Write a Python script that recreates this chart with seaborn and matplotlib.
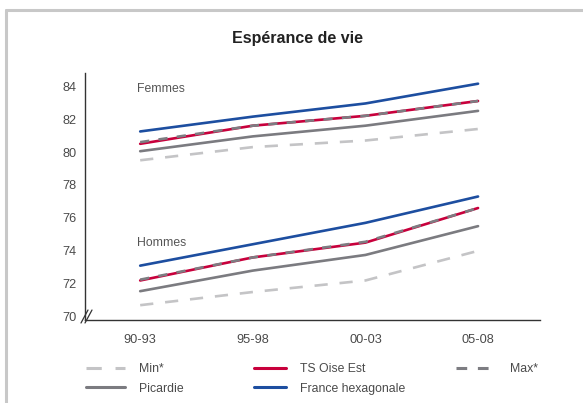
import numpy as np
import pandas as pd
import matplotlib
matplotlib.use('Agg')
import matplotlib.pyplot as plt
import seaborn as sns
from matplotlib.lines import Line2D

periodes = ['90-93', '95-98', '00-03', '05-08']

femmes_min = [79.5, 80.3, 80.7, 81.4]
femmes_picardie = [80.05, 80.95, 81.6, 82.5]
femmes_oise = [80.5, 81.6, 82.2, 83.1]
femmes_max = [80.6, 81.6, 82.2, 83.1]
femmes_france = [81.25, 82.15, 82.95, 84.15]

hommes_min = [70.7, 71.5, 72.2, 74.0]
hommes_picardie = [71.55, 72.8, 73.75, 75.5]
hommes_oise = [72.2, 73.6, 74.5, 76.6]
hommes_max = [72.25, 73.6, 74.55, 76.6]
hommes_france = [73.1, 74.4, 75.7, 77.3]

series = ['Min*', 'Picardie', 'TS Oise Est', 'Max*', 'France hexagonale']
femmes = [femmes_min, femmes_picardie, femmes_oise, femmes_max, femmes_france]
hommes = [hommes_min, hommes_picardie, hommes_oise, hommes_max, hommes_france]
y_ticks = [70, 72, 74, 76, 78, 80, 82, 84]

styles = {
    'Min*': dict(color='#c4c4c6', ls=(0, (5, 4.5))),
    'Picardie': dict(color='#7b7b80', ls='-'),
    'TS Oise Est': dict(color='#c8003c', ls='-'),
    'Max*': dict(color='#7d7d82', ls=(0, (3.5, 3.5))),
    'France hexagonale': dict(color='#1d4ea0', ls='-'),
}

rows = []
for s, vf, vh in zip(series, femmes, hommes):
    for p, a, b in zip(periodes, vf, vh):
        rows.append((s, 'Femmes', p, a))
        rows.append((s, 'Hommes', p, b))
df = pd.DataFrame(rows, columns=['serie', 'sexe', 'periode', 'valeur'])

sns.set_style('white')
plt.rcParams['font.family'] = ['Liberation Sans', 'DejaVu Sans']
fs = 8.8

fig = plt.figure(figsize=(5.83, 4.03), dpi=100)
ax = fig.add_axes([85/583, 1-320/403, 455/583, (320-73)/403])

for i, s in enumerate(series):
    for sexe in ['Femmes', 'Hommes']:
        d = df[(df.serie == s) & (df.sexe == sexe)]
        sns.lineplot(data=d, x='periode', y='valeur', ax=ax, sort=False,
                     errorbar=None, color=styles[s]['color'],
                     linestyle=styles[s]['ls'], linewidth=1.9,
                     zorder=2 + i, legend=False)

ax.set_xlim(-0.49, 3.55)
ax.set_ylim(69.8, 84.8)
ax.set_yticks(y_ticks)
ax.set_xlabel('')
ax.set_ylabel('')
ax.tick_params(axis='both', length=0, labelsize=9.2, labelcolor='#4a4a4a')
ax.tick_params(axis='y', pad=6)
ax.tick_params(axis='x', pad=10)
for sp in ['top', 'right']:
    ax.spines[sp].set_visible(False)
for sp in ['left', 'bottom']:
    ax.spines[sp].set_color('#333333')
    ax.spines[sp].set_linewidth(1.0)

ax.text(-0.03, 83.8, 'Femmes', fontsize=fs, color='#555555', va='center')
ax.text(-0.03, 74.45, 'Hommes', fontsize=fs, color='#555555', va='center')

# break mark on y axis
w, h = 455.0, 247.0
for dx in (-4, 0):
    ax.add_line(Line2D([(dx) / w, (dx + 7) / w], [-3 / h, 10 / h],
                       transform=ax.transAxes, color='#333333', lw=0.9,
                       clip_on=False))

fig.text(297/583, 1-38/403, 'Espérance de vie', ha='center', va='center',
         fontsize=11.5, fontweight='bold', color='#222222')

# frame
fig.add_artist(Line2D([6/583, 1.0], [1-9.5/403, 1-9.5/403], color='#c8c8c8',
                      lw=2.2, transform=fig.transFigure))
fig.add_artist(Line2D([6/583, 6/583], [0, 1-9.5/403], color='#c8c8c8',
                      lw=2.2, transform=fig.transFigure))

def handle(s):
    return Line2D([], [], color=styles[s]['color'], linestyle=styles[s]['ls'],
                  linewidth=2.2)

cols = [(['Min*', 'Picardie'], 86, 3.2), (['TS Oise Est', 'France hexagonale'], 254, 2.6),
        (['Max*'], 456, 3.3)]
for labels, x0, hl in cols:
    leg = fig.legend(handles=[handle(s) for s in labels], labels=labels,
                     loc='upper left', bbox_to_anchor=(x0/583, 1-363/403),
                     frameon=False, borderpad=0, borderaxespad=0,
                     handlelength=hl, handletextpad=1.15, labelspacing=0.62,
                     fontsize=fs, labelcolor='#4a4a4a')

fig.savefig('out.png', dpi=100)
